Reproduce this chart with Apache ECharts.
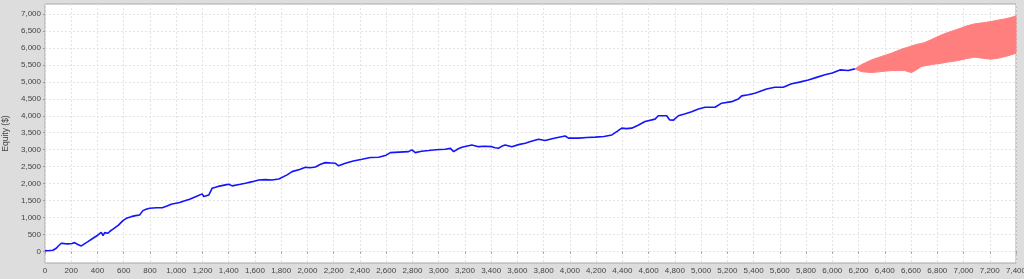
<!DOCTYPE html>
<html>
<head>
<meta charset="utf-8">
<script src="https://cdn.jsdelivr.net/npm/echarts@6/dist/echarts.min.js"></script>
<style>
html,body{margin:0;padding:0;background:#dddddd;}
#c{width:1024px;height:279px;}
</style>
</head>
<body>
<div id="c"></div>
<script>
// Equity curve (trade number -> equity $)
const equityTrades = [0,20,35,60,86,105,124,150,175,206,226,250,277,300,327,360,404,429,442,455,467,480,495,518,560,594,620,657,690,721,746,770,797,850,898,930,962,1025,1060,1102,1152,1198,1210,1249,1274,1320,1376,1401,1426,1480,1528,1580,1629,1680,1730,1782,1845,1883,1940,1985,2020,2061,2100,2137,2180,2213,2238,2289,2350,2416,2480,2543,2600,2632,2700,2771,2796,2822,2870,2923,2980,3050,3090,3114,3150,3177,3253,3304,3350,3405,3430,3456,3480,3507,3558,3609,3660,3700,3761,3812,3880,3964,3990,4066,4130,4193,4260,4320,4360,4395,4430,4471,4520,4573,4649,4674,4738,4760,4790,4827,4880,4928,4980,5030,5106,5157,5233,5284,5309,5360,5410,5436,5499,5563,5626,5690,5750,5817,5880,5944,6000,6058,6121,6172];
const equityValues = [30,25,0,40,100,180,247,235,227,240,265,210,168,230,295,380,490,570,470,560,590,540,600,660,780,913,980,1030,1060,1080,1207,1250,1277,1290,1296,1340,1395,1445,1490,1543,1620,1700,1620,1670,1867,1920,1965,1985,1935,1975,2015,2060,2110,2120,2110,2140,2260,2355,2420,2485,2470,2490,2570,2620,2610,2600,2525,2600,2670,2720,2770,2780,2840,2915,2930,2945,2995,2915,2955,2975,3000,3015,3040,2945,3030,3075,3140,3090,3100,3090,3060,3045,3100,3140,3090,3150,3190,3240,3310,3270,3340,3405,3340,3340,3360,3370,3390,3435,3540,3635,3620,3635,3720,3830,3900,4000,4000,3880,3870,4000,4060,4120,4200,4250,4250,4370,4415,4490,4585,4620,4665,4700,4790,4840,4840,4940,4990,5055,5130,5205,5260,5350,5330,5380];
// Projection band
const bandTrades = [6172,6220,6298,6370,6450,6520,6552,6603,6640,6679,6704,6760,6831,6880,6958,7020,7085,7150,7212,7270,7313,7360,7400];
const bandUpper = [5380,5500,5645,5740,5840,5950,5990,6050,6100,6130,6155,6250,6380,6450,6550,6640,6705,6740,6775,6820,6850,6890,6940];
const bandLower = [5380,5300,5270,5300,5330,5330,5330,5270,5350,5450,5470,5510,5545,5580,5625,5680,5725,5690,5665,5700,5740,5790,5840];
// Axis ticks
const yTicks = [0,500,1000,1500,2000,2500,3000,3500,4000,4500,5000,5500,6000,6500,7000];

const font = "'Liberation Sans Narrow','Liberation Sans',Arial,sans-serif";
const fmt = v => v.toLocaleString('en-US');

const chart = echarts.init(document.getElementById('c'), null, {renderer:'canvas'});
chart.setOption({
  backgroundColor:'#dddddd',
  animation:false,
  grid:{left:45,right:8,top:4,bottom:16,outerBoundsMode:'none',containLabel:false,show:true,backgroundColor:'#ffffff',borderColor:'#a8a8a8',borderWidth:1},
  xAxis:{
    type:'value',min:0,max:7400,interval:200,
    axisLine:{show:false},
    axisTick:{show:true,length:2,lineStyle:{color:'#999'}},
    axisLabel:{fontFamily:font,fontSize:8,color:'#444',margin:4,formatter:fmt,showMinLabel:true,showMaxLabel:true,hideOverlap:false},
    splitLine:{show:true,lineStyle:{color:'#e4e4e4',type:[2,2],width:1}}
  },
  yAxis:{
    type:'value',min:-335,max:7290,
    name:'Equity ($)',nameLocation:'middle',nameGap:30,nameRotate:90,
    nameTextStyle:{fontFamily:font,fontSize:8.5,color:'#444'},
    axisLine:{show:false},
    axisTick:{show:true,length:2,lineStyle:{color:'#999'},customValues:yTicks},
    axisLabel:{fontFamily:font,fontSize:8,color:'#444',margin:4,formatter:fmt,customValues:yTicks},
    splitLine:{show:true,lineStyle:{color:'#e4e4e4',type:[2,2],width:1}}
  },
  series:[
    {
      type:'custom',name:'range',silent:true,
      data:bandTrades.map((t,i)=>[t,bandLower[i],bandUpper[i]]),
      encode:{x:0,y:[1,2]},
      renderItem:function(params, api){
        if (params.dataIndex !== 0) return null;
        const pts = [];
        for (let i=0;i<bandTrades.length;i++) pts.push(api.coord([bandTrades[i], bandUpper[i]]));
        for (let i=bandTrades.length-1;i>=0;i--) pts.push(api.coord([bandTrades[i], bandLower[i]]));
        return {type:'polygon',shape:{points:pts},style:{fill:'#ff7f7f',stroke:'#ff7f7f',lineWidth:1}};
      },
      z:2
    },
    {type:'line',name:'equity',data:equityTrades.map((t,i)=>[t,equityValues[i]]),symbol:'none',lineStyle:{color:'#1414ff',width:1.6},z:3}
  ]
});
</script>
</body>
</html>
